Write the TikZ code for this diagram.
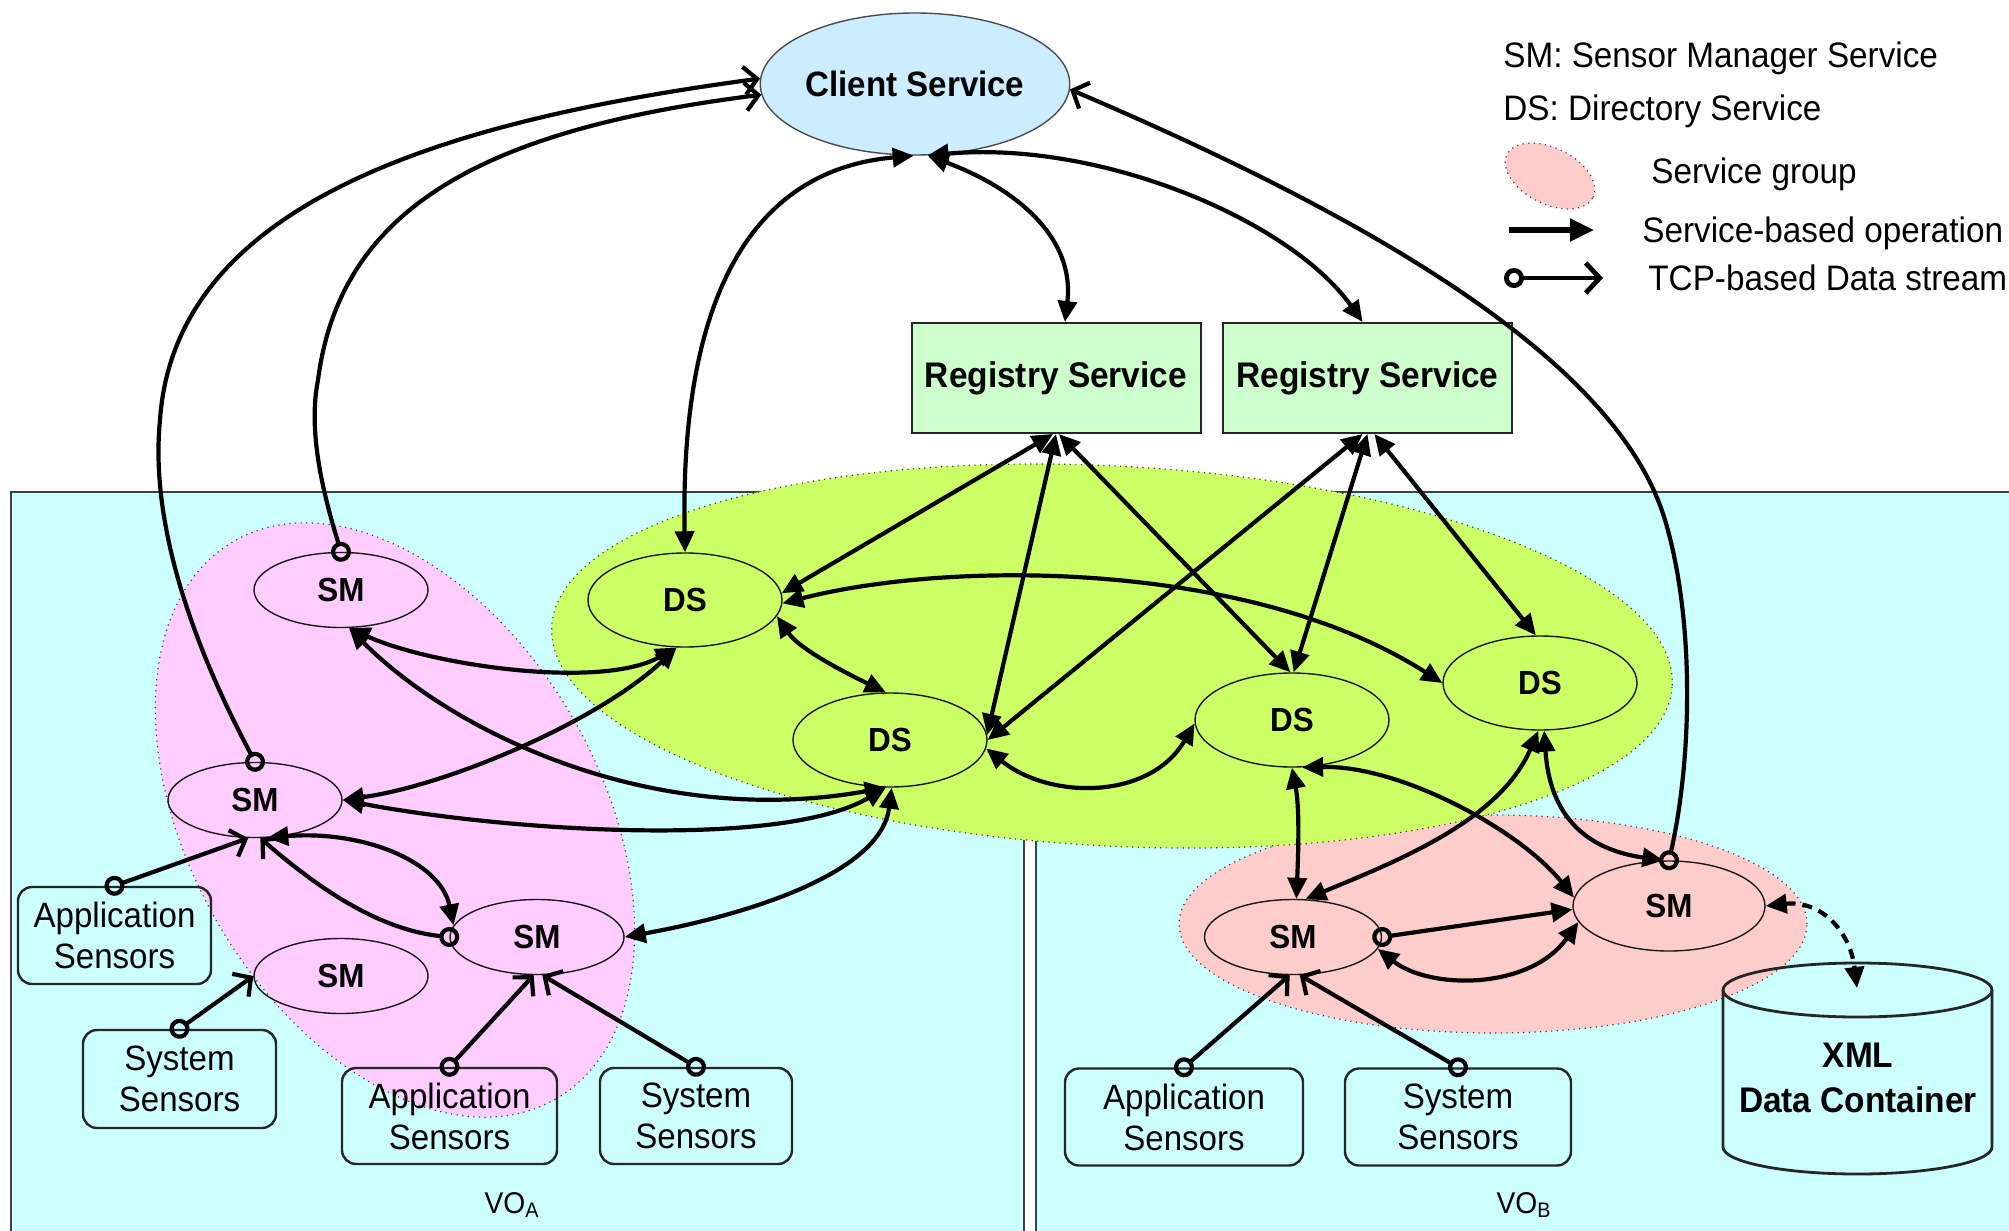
\documentclass[tikz,border=0pt]{standalone}
\usepackage{fontspec}
\setmainfont{Liberation Sans}[FakeStretch=0.94]
\usetikzlibrary{shapes.geometric,arrows.meta}

\definecolor{panelcyan}{RGB}{204,255,255}
\definecolor{dsgroup}{RGB}{204,255,102}
\definecolor{smgroupA}{RGB}{255,204,255}
\definecolor{smgroupB}{RGB}{255,204,204}
\definecolor{clientfill}{RGB}{204,236,255}
\definecolor{regfill}{RGB}{204,255,204}

\begin{document}
\begin{tikzpicture}[
  x=0.5pt, y=-0.5pt,
  font=\fontsize{17.6}{20.5}\selectfont,
  grouparea/.style={draw=black!75, line width=0.6pt, dash pattern=on 0.6pt off 2.2pt},
  svc/.style={ellipse, draw=black!90, line width=0.7pt, inner sep=0pt,
              font=\fontsize{16.7}{18}\selectfont\bfseries},
  smnode/.style={svc, minimum width=87pt, minimum height=37.5pt},
  dsnode/.style={svc, minimum width=97pt, minimum height=47pt},
  regnode/.style={rectangle, draw=black!85, fill=regfill, line width=1pt,
                  minimum width=144.5pt, minimum height=55pt, inner sep=0pt,
                  font=\fontsize{17.8}{20}\selectfont\bfseries},
  sensor/.style={rectangle, rounded corners=7pt, draw=black!85, line width=1.2pt,
                 align=center, inner sep=0pt, font=\fontsize{17.6}{20.5}\selectfont},
  conn/.style={line width=2.1pt},
  tri/.tip={Triangle[length=10.5pt,width=9.5pt]},
  barb/.tip={Straight Barb[length=6.5pt,width=14pt]},
  ring/.tip={Circle[open,length=10pt,width=10pt]},
  dblarrow/.style={conn, tri-tri},
  tcpline/.style={conn, ring-barb, shorten <=-5pt},
  tcpsolid/.style={conn, ring-tri, shorten <=-5pt},
  legendtext/.style={anchor=base west, inner sep=0pt, font=\fontsize{17.7}{20}\selectfont},
]
\useasboundingbox (0,0) rectangle (2009,1231);
\clip (0,0) rectangle (2009,1231);
\fill[white] (0,0) rectangle (2009,1231);

% virtual organisation panels
\filldraw[fill=panelcyan, draw=black!75, line width=0.8pt] (11,492) rectangle (1024,1250);
\filldraw[fill=panelcyan, draw=black!75, line width=0.8pt] (1036,492) rectangle (2030,1250);

% service groups
\path[fill=smgroupA, grouparea, rotate around={-60:(395,820)}]
  (395,820) ellipse [x radius=161pt, y radius=102.5pt];
\path[fill=smgroupB, grouparea] (1493,924) ellipse [x radius=157pt, y radius=54.5pt];
\path[fill=dsgroup, grouparea, rotate around={-3:(1112,656)}]
  (1112,656) ellipse [x radius=280.5pt, y radius=95pt];

% top-level services
\node[ellipse, draw=black!70, line width=0.7pt, fill=clientfill, minimum width=150pt,
      minimum height=71pt, inner sep=0pt, font=\fontsize{17.6}{20}\selectfont\bfseries]
  (client) at (915,84) {Client Service};
\node[regnode] (reg1) at (1056,378) {Registry Service};
\node[regnode] (reg2) at (1367.5,378) {Registry Service};

% directory services
\node[dsnode] (ds1) at (685,600) {DS};
\node[dsnode] (ds2) at (890,740) {DS};
\node[dsnode] (ds3) at (1292,720) {DS};
\node[dsnode] (ds4) at (1540,683) {DS};

% sensor managers
\node[smnode] (sm1) at (341,590) {SM};
\node[smnode] (sm2) at (255,800) {SM};
\node[smnode] (sm3) at (537,937) {SM};
\node[smnode] (sm4) at (341,976) {SM};
\node[smnode, minimum width=88.5pt] (sm5) at (1293,937) {SM};
\node[smnode, minimum width=96pt, minimum height=45pt] (sm6) at (1669,906) {SM};

% sensors
\node[sensor, minimum width=96.5pt, minimum height=48.5pt] (app1) at (114.5,935.5) {Application\\Sensors};
\node[sensor, minimum width=96.5pt, minimum height=49pt] (sys1) at (179.5,1079) {System\\Sensors};
\node[sensor, minimum width=107.5pt, minimum height=48pt] (app2) at (449.5,1116) {Application\\Sensors};
\node[sensor, minimum width=96pt, minimum height=48pt] (sys2) at (696,1116) {System\\Sensors};
\node[sensor, minimum width=119pt, minimum height=48.5pt] (app3) at (1184,1117) {Application\\Sensors};
\node[sensor, minimum width=113pt, minimum height=48.5pt] (sys3) at (1458,1117) {System\\Sensors};

% XML data container (cylinder)
\draw[line width=1.4pt, draw=black!85] (1723,990) -- (1723,1147)
  arc[start angle=180, end angle=360, x radius=67.25pt, y radius=13.5pt] -- (1992,990);
\draw[line width=1.4pt, draw=black!85] (1857.5,990) ellipse [x radius=67.25pt, y radius=13.5pt];
\node[align=center, inner sep=0pt, font=\fontsize{17.8}{22.5}\selectfont\bfseries]
  (xml) at (1858,1078) {XML\\Data Container};
\coordinate (xmltop) at (1857,988);

% labels of the two organisations
\node[anchor=base, inner sep=0pt, font=\fontsize{15}{17}\selectfont] (voa) at (512,1213) {VO\textsubscript{A}};
\node[anchor=base, inner sep=0pt, font=\fontsize{15}{17}\selectfont] (vob) at (1524,1213) {VO\textsubscript{B}};

% links to the client service
\draw[tcpline] (sm2.north) .. controls (190,640) and (150,520) .. (160,420)
  .. controls (175,200) and (450,120) .. (client.178);
\draw[tcpline] (sm1.north) .. controls (322,490) and (308,430) .. (318,380)
  .. controls (340,210) and (480,130) .. (client.184);
\draw[tcpline] (sm6.north) .. controls (1692,760) and (1695,620) .. (1665,520)
  .. controls (1620,370) and (1400,230) .. (client.-2);
\draw[dblarrow] (client.-91) .. controls (750,170) and (680,300) .. (ds1.north);
\draw[dblarrow] (client.-80) .. controls (1020,190) and (1075,240) .. (reg1.81);
\draw[dblarrow] (client.-80) .. controls (1100,140) and (1290,220) .. (reg2.95);

% registry to directory services
\draw[dblarrow] (reg1.-93) -- (ds1.4);
\draw[dblarrow] (reg1.-90) -- (ds2.3);
\draw[dblarrow] (reg1.-87) -- (ds3.92);
\draw[dblarrow] (reg2.-95) -- (ds2.east);
\draw[dblarrow] (reg2.-90) -- (ds3.88);
\draw[dblarrow] (reg2.-83) -- (ds4.95);

% between directory services
\draw[dblarrow] (ds1.-2) .. controls (950,560) and (1250,560) .. (ds4.west);
\draw[dblarrow] (ds1.-10) .. controls (800,650) and (850,675) .. (ds2.95);
\draw[dblarrow] (ds2.-5) .. controls (1050,800) and (1150,800) .. (ds3.182);

% VO_A sensor managers
\draw[dblarrow] (sm1.-78) .. controls (430,665) and (600,690) .. (ds1.-100);
\draw[dblarrow] (sm1.-78) .. controls (450,730) and (650,830) .. (ds2.-95);
\draw[dblarrow] (sm2.east) .. controls (450,785) and (600,720) .. (ds1.-100);
\draw[dblarrow] (sm2.east) .. controls (500,830) and (780,850) .. (ds2.-95);
\draw[dblarrow] (sm2.-72) .. controls (360,830) and (440,860) .. (sm3.172);
\draw[tcpline] (sm3.west) .. controls (380,930) and (320,890) .. (sm2.-82);
\draw[dblarrow] (sm3.east) .. controls (720,920) and (880,880) .. (ds2.-88);

% sensor data streams
\draw[tcpline] (app1.north) -- (sm2.-100);
\draw[tcpline] (sys1.north) -- (sm4.west);
\draw[tcpline] (app2.north) -- (sm3.-95);
\draw[tcpline] (sys2.north) -- (sm3.-82);
\draw[tcpline] (app3.north) -- (sm5.-95);
\draw[tcpline] (sys3.north) -- (sm5.-80);

% VO_B sensor managers
\draw[dblarrow] (ds3.-90) .. controls (1300,810) and (1298,860) .. (sm5.85);
\draw[dblarrow] (ds3.-78) .. controls (1400,765) and (1520,830) .. (sm6.175);
\draw[dblarrow] (ds4.-92) .. controls (1500,820) and (1400,860) .. (sm5.72);
\draw[dblarrow] (ds4.-85) .. controls (1550,820) and (1590,850) .. (sm6.97);
\draw[tcpsolid] (sm5.east) -- (sm6.182);
\draw[dblarrow] (sm6.190) .. controls (1530,990) and (1430,990) .. (sm5.-8);
\draw[dblarrow, dash pattern=on 5pt off 3.5pt] (sm6.east) .. controls (1820,900) and (1850,930) .. (xmltop);

% legend
\node[legendtext] (lgsm) at (1503,68) {SM: Sensor Manager Service};
\node[legendtext] (lgds) at (1503,120) {DS: Directory Service};
\path[fill=smgroupB, grouparea, rotate around={-26.5:(1550,176)}]
  (1550,176) ellipse [x radius=24pt, y radius=14pt];
\node[legendtext] (lggroup) at (1651,183) {Service group};
\coordinate (lga) at (1509,230);
\coordinate (lgb) at (1594,230);
\draw[line width=2.6pt, -{Triangle[length=12pt,width=11pt]}] (lga) -- (lgb);
\node[legendtext] (lgop) at (1642,242) {Service-based operation};
\coordinate (lgc) at (1514,278);
\coordinate (lgd) at (1603,278);
\draw[conn, line width=2.4pt, {Circle[open,length=10pt,width=10pt]}-{Straight Barb[length=7pt,width=15pt]}, shorten <=-5pt] (lgc) -- (lgd);
\node[legendtext] (lgtcp) at (1648,290) {TCP-based Data stream};
\end{tikzpicture}
\end{document}
